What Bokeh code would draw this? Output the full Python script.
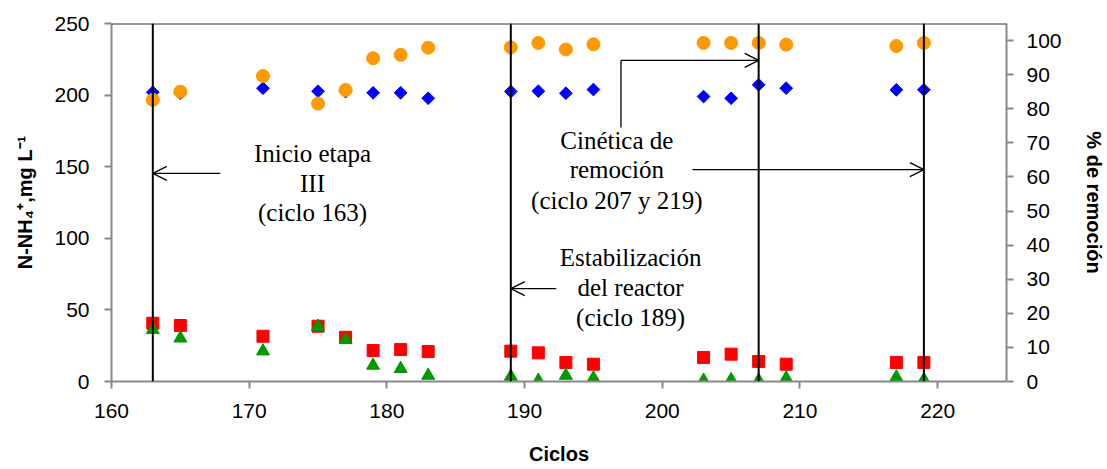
from bokeh.plotting import figure
from bokeh.models import (Range1d, LinearAxis, FixedTicker, Span, Arrow, OpenHead,
                          ColumnDataSource)
from bokeh.core.properties import value
from bokeh.embed import file_html
from bokeh.resources import INLINE

# ---------------- data ----------------
ciclos = [163, 165, 171, 175, 177, 179, 181, 183, 189, 191, 193, 195, 203, 205, 207, 209, 217, 219]
nh4_influente = [202.0, 201.3, 204.8, 202.7, 202.5, 201.6, 201.6, 197.8, 202.5, 202.7, 201.3, 203.9,
                 199.0, 197.8, 207.2, 204.8, 203.7, 203.7]
nh4_efluente = [40.7, 39.1, 31.6, 38.6, 30.9, 21.6, 22.3, 20.9, 21.2, 20.0, 13.3, 12.1,
                16.8, 19.1, 14.0, 12.1, 13.3, 13.3]
serie_verde = [36.1, 30.2, 21.2, 38.4, 29.1, 11.2, 8.9, 4.2, 3.5, 0.7, 4.2, 2.3,
               0.7, 1.2, 0.7, 2.3, 3.0, 1.2]
remocion = [82.6, 85.0, 89.6, 81.5, 85.5, 94.8, 95.8, 97.9, 98.0, 99.3, 97.4, 98.9,
            99.3, 99.3, 99.3, 98.8, 98.4, 99.3]

x_ticks = [160, 170, 180, 190, 200, 210, 220]
y_ticks = [0, 50, 100, 150, 200, 250]
y2_ticks = [0, 10, 20, 30, 40, 50, 60, 70, 80, 90, 100]

ciclos_marcados = [163, 189, 207, 219]

ann_text = ["Inicio etapa", "III", "(ciclo 163)",
            "Estabilización", "del reactor", "(ciclo 189)",
            "Cinética de", "remoción", "(ciclo 207 y 219)"]
ann_x = [174.6, 174.6, 174.6, 197.7, 197.7, 197.7, 196.7, 196.7, 196.7]
ann_y = [159.2, 138.3, 118.0, 86.6, 65.6, 44.7, 168.3, 148.0, 126.4]

# ---------------- figure ----------------
p = figure(width=1107, height=469, x_range=Range1d(160, 225), y_range=Range1d(0, 250),
           output_backend="svg", toolbar_location=None,
           min_border_left=111, min_border_right=99, min_border_top=23, min_border_bottom=88)
p.extra_y_ranges = {"pct": Range1d(0, 105)}
p.xgrid.visible = False
p.ygrid.visible = False
p.outline_line_color = None
p.background_fill_color = "white"
p.border_fill_color = "white"

axis_col = "#898989"
tick_font = "Liberation Sans"


def style_axis(ax, standoff):
    ax.axis_line_color = axis_col
    ax.axis_line_width = 2
    ax.major_tick_line_color = axis_col
    ax.major_tick_line_width = 2
    ax.major_tick_in = 0
    ax.major_tick_out = 7
    ax.minor_tick_line_color = None
    ax.major_label_text_font = tick_font
    ax.major_label_text_font_size = "21px"
    ax.major_label_text_color = "black"
    ax.major_label_standoff = standoff
    ax.axis_label_text_font = tick_font
    ax.axis_label_text_font_size = "20px"
    ax.axis_label_text_font_style = "bold"
    ax.axis_label_text_color = "black"


xa = p.xaxis[0]
xa.ticker = FixedTicker(ticks=x_ticks)
xa.axis_label = "Ciclos"
style_axis(xa, 15)
xa.axis_label_standoff = 22

ya = p.yaxis[0]
ya.ticker = FixedTicker(ticks=y_ticks)
ya.axis_label = "N-NH₄⁺,mg L⁻¹"
style_axis(ya, 15)
ya.axis_label_standoff = 15

ya2 = LinearAxis(y_range_name="pct", ticker=FixedTicker(ticks=y2_ticks), axis_label="% de remoción")
style_axis(ya2, 13)
ya2.axis_label_standoff = 18
p.add_layout(ya2, "right")

# top border
p.add_layout(Span(location=250, dimension="width", line_color="#333333", line_width=2))

# ---------------- series ----------------
src = ColumnDataSource(dict(c=ciclos, inf=nh4_influente, ef=nh4_efluente, v=serie_verde, r=remocion))

p.scatter("c", "inf", source=src, marker="square", angle=0.7853981634, size=9,
          fill_color="#0000FF", line_color="#0000FF")
p.scatter("c", "ef", source=src, marker="square", size=12,
          fill_color="#FF0000", line_color="#FF0000")
p.scatter("c", "v", source=src, marker="triangle", size=13,
          fill_color="#009900", line_color="#009900")
p.scatter("c", "r", source=src, marker="circle", size=13, y_range_name="pct",
          fill_color="#FF9900", line_color="#FF9900")

# ---------------- annotations ----------------
for c in ciclos_marcados:
    p.add_layout(Span(location=c, dimension="height", line_color="black", line_width=2))

head = dict(size=14, line_width=1.3, line_color="black")
p.add_layout(Arrow(end=OpenHead(**head), x_start=167.9, y_start=145.3, x_end=163, y_end=145.3,
                   line_width=1.3, line_color="black"))
p.add_layout(Arrow(end=OpenHead(**head), x_start=192.3, y_start=64.9, x_end=189, y_end=64.9,
                   line_width=1.3, line_color="black"))
p.line([197.0, 197.0], [177.4, 224.2], line_color="black", line_width=1.3)
p.add_layout(Arrow(end=OpenHead(**head), x_start=197.0, y_start=224.2, x_end=207, y_end=224.2,
                   line_width=1.3, line_color="black"))
p.add_layout(Arrow(end=OpenHead(**head), x_start=202.2, y_start=148.0, x_end=219, y_end=148.0,
                   line_width=1.3, line_color="black"))

p.text(x=ann_x, y=ann_y, text=ann_text, text_font=value("Liberation Serif"),
       text_font_size="25px", text_align="center", text_baseline="middle", text_color="black")

open("out.html", "w").write(file_html(p, INLINE))
